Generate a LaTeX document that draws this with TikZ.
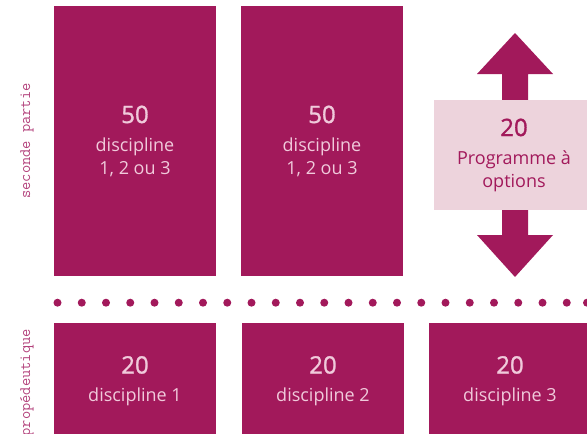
\documentclass[tikz,border=0pt]{standalone}
\usepackage{fontspec}
\setmainfont{Open Sans}
\definecolor{mag}{HTML}{A2195B}
\definecolor{lightmag}{HTML}{EDD3DC}
\definecolor{pinktext}{HTML}{F0CADB}
\definecolor{labelcol}{HTML}{B3427C}
\begin{document}
\begin{tikzpicture}[x=1pt,y=-1pt,
  darkbox/.style={rectangle, fill=mag, inner sep=0pt, text=pinktext, align=center,
    font=\fontsize{18}{23}\selectfont},
  lightbox/.style={rectangle, fill=lightmag, inner sep=0pt, text=mag, align=center,
    font=\fontsize{18}{23}\selectfont},
  sidelabel/.style={rotate=90, text=labelcol, inner sep=0pt, font=\ttfamily\fontsize{16}{16}\selectfont},
  dot/.style={circle, fill=mag, inner sep=0pt, minimum size=8pt},
  bigarrow/.style={fill=mag}
]
\useasboundingbox (0,0) rectangle (587,434);
\newcommand{\num}[1]{{\fontsize{24}{28}\selectfont\addfontfeature{FakeBold=1.2}#1}\\[5pt]}
% top boxes
\node[darkbox, minimum width=162pt, minimum height=270pt] (s1) at (135,141) {\num{50}discipline\\1, 2 ou 3};
\node[darkbox, minimum width=162pt, minimum height=270pt] (s2) at (322,141) {\num{50}discipline\\1, 2 ou 3};
% arrows
\fill[bigarrow] (502,110) -- (502,74) -- (477,74) -- (515,33) -- (553,74) -- (528,74) -- (528,110) -- cycle;
\fill[bigarrow] (502,200) -- (502,235) -- (477,235) -- (515,277) -- (553,235) -- (528,235) -- (528,200) -- cycle;
\node[lightbox, minimum width=160pt, minimum height=110pt] (opt) at (514,155) {\num{20}Programme à\\options};
% dots
\foreach \i in {0,...,21} {
  \node[dot] (d\i) at (57.5+\i*24.25,302.7) {};
}
\node[dot] (d22) at (587,302.7) {};
% bottom boxes
\node[darkbox, minimum width=162pt, minimum height=116pt] (p1) at (135,381) {\num{20}discipline 1};
\node[darkbox, minimum width=162pt, minimum height=116pt] (p2) at (323,381) {\num{20}discipline 2};
\node[darkbox, minimum width=162pt, minimum height=116pt] (p3) at (510,381) {\num{20}discipline 3};
% side labels
\node[sidelabel] (l1) at (27,141) {seconde partie};
\node[sidelabel, anchor=east] (l2) at (27,329) {propédeutique};
\end{tikzpicture}
\end{document}
